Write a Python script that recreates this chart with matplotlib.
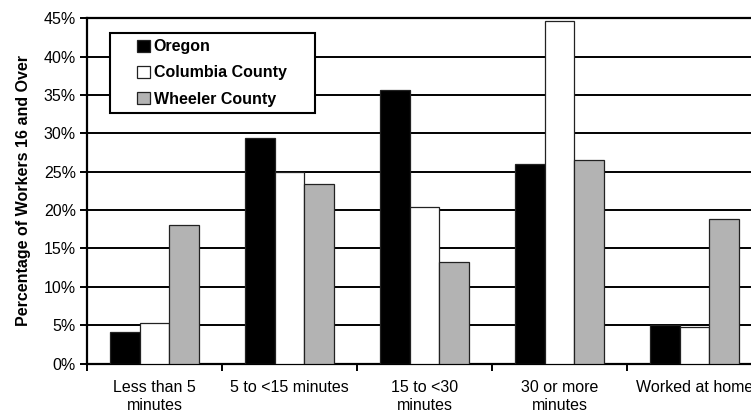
import matplotlib.pyplot as plt
import numpy as np
from matplotlib.patches import Rectangle
from matplotlib.ticker import PercentFormatter

plt.rcParams['font.family'] = ['Liberation Sans', 'DejaVu Sans']

# Travel time to work, percent of workers 16 and over
categories = ['Less than 5\nminutes', '5 to <15 minutes', '15 to <30\nminutes',
              '30 or more\nminutes', 'Worked at home']
oregon = [4.1, 29.4, 35.6, 26.0, 5.0]
columbia = [5.3, 25.0, 20.4, 44.6, 4.7]
wheeler = [18.1, 23.4, 13.2, 26.5, 18.9]

series = [('Oregon', oregon, 'black'),
          ('Columbia County', columbia, 'white'),
          ('Wheeler County', wheeler, '#b3b3b3')]

fs = 11.5

fig = plt.figure(figsize=(7.51, 4.13), dpi=100)
# axes runs slightly past the right edge of the figure
ax_w, ax_h = 675, 345.2
ax = fig.add_axes([87 / 751, 49.5 / 413, ax_w / 751, ax_h / 413])

x = np.arange(len(categories))
width = 0.222
for i, (name, vals, color) in enumerate(series):
    ax.bar(x + (i - 1) * width, vals, width=width, color=color,
           edgecolor='#222222', linewidth=0.9, label=name, zorder=3)

ax.set_xlim(-0.5, len(categories) - 0.5)
ax.set_ylim(0, 45)
ax.set_yticks(np.arange(0, 46, 5))
ax.yaxis.set_major_formatter(PercentFormatter(decimals=0))
ax.grid(axis='y', color='black', linewidth=1.4, zorder=0)

# labels centred under groups, tick marks on the group boundaries
ax.set_xticks(np.arange(-0.5, len(categories), 1.0))
ax.set_xticklabels([])
ax.set_xticks(x, minor=True)
ax.set_xticklabels(categories, minor=True, fontsize=fs, linespacing=1.25)
ax.tick_params(axis='x', which='minor', length=0, pad=12)
ax.tick_params(axis='x', which='major', length=5, width=1.4, direction='out')
ax.tick_params(axis='y', length=5, width=1.4, labelsize=fs, pad=3)

for side in ['left', 'bottom', 'top', 'right']:
    ax.spines[side].set_linewidth(1.6)

ax.set_ylabel('Percentage of Workers 16 and Over', fontsize=fs,
              fontweight='bold', labelpad=9)

# legend box with wide side padding, drawn separately from the entries
box = Rectangle((23 / ax_w, 1 - 95 / ax_h), 205 / ax_w, 80 / ax_h,
                transform=ax.transAxes, facecolor='white', edgecolor='black',
                linewidth=1.5, zorder=4)
ax.add_patch(box)
ax.legend(loc='upper left', bbox_to_anchor=(50 / ax_w, 1 - 21 / ax_h),
          frameon=False, prop={'weight': 'bold', 'size': fs},
          handlelength=0.8, handleheight=0.8, handletextpad=0.25,
          borderpad=0, labelspacing=0.7, borderaxespad=0)

plt.savefig('out.png', dpi=100)
